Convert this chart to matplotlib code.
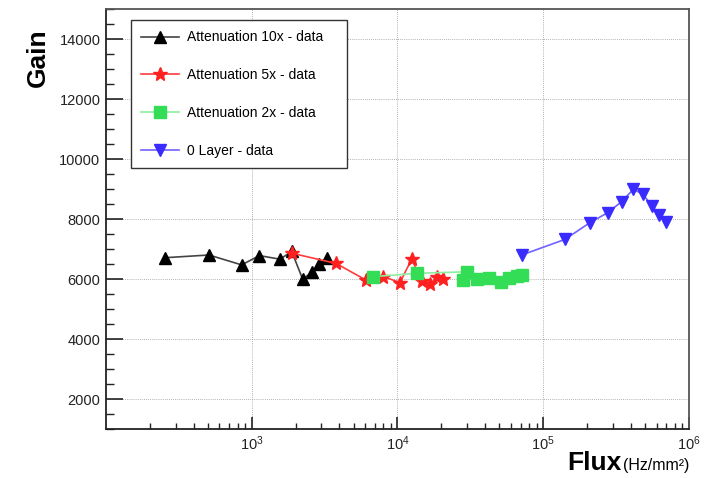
import numpy as np
import matplotlib
matplotlib.use("Agg")
import matplotlib.pyplot as plt
from matplotlib.ticker import LogLocator, MultipleLocator, NullFormatter

plt.rcParams['font.family'] = ['Liberation Sans', 'DejaVu Sans']
plt.rcParams['mathtext.fontset'] = 'custom'
plt.rcParams['mathtext.rm'] = 'Liberation Sans'
plt.rcParams['mathtext.it'] = 'Liberation Sans:italic'
plt.rcParams['mathtext.bf'] = 'Liberation Sans:bold'

# gain vs flux, one graph per attenuation setting
flux_10x = [254, 509, 853, 1127, 1563, 1880, 2237, 2604, 2893, 3268]
gain_10x = [6720, 6810, 6480, 6790, 6670, 6930, 6000, 6250, 6500, 6720]

flux_5x = [1880, 3785, 6050, 8000, 10400, 12500, 14660, 16710, 18570, 20620]
gain_5x = [6870, 6530, 5980, 6090, 5890, 6670, 5950, 5830, 6070, 6000]

flux_2x = [6820, 13680, 29840, 28280, 34930, 42650, 51300, 58500, 65740, 71150]
gain_2x = [6090, 6200, 6250, 5980, 6000, 6050, 5920, 6030, 6110, 6130]

flux_0l = [71150, 140900, 209400, 276700, 345300, 414900, 481000, 559900, 625600, 695600]
gain_0l = [6810, 7330, 7890, 8220, 8590, 9000, 8840, 8440, 8140, 7900]

fig = plt.figure(figsize=(7.1, 4.78), dpi=100)
ax = fig.add_axes([0.1493, 0.1019, 0.8211, 0.8786])

ax.plot(flux_10x, gain_10x, color='#444444', lw=1.2, marker='^', ms=9,
        mfc='black', mec='black', label='Attenuation 10x - data')
ax.plot(flux_5x, gain_5x, color='#ff3b3b', lw=1.2, marker='*', ms=10.5,
        mfc='#ff2020', mec='#ff2020', label='Attenuation 5x - data')
ax.plot(flux_2x, gain_2x, color='#8ceea0', lw=1.2, marker='s', ms=8,
        mfc='#33dd55', mec='#33dd55', label='Attenuation 2x - data')
ax.plot(flux_0l, gain_0l, color='#6f62ff', lw=1.2, marker='v', ms=9,
        mfc='#3a2bff', mec='#3a2bff', label='0 Layer - data')

ax.set_xscale('log')
ax.set_xlim(100, 1e6)
ax.set_ylim(1000, 15000)

ax.xaxis.set_major_locator(LogLocator(base=10, numticks=10))
ax.xaxis.set_minor_locator(LogLocator(base=10, subs=np.arange(2, 10), numticks=10))
ax.xaxis.set_minor_formatter(NullFormatter())
ax.yaxis.set_major_locator(MultipleLocator(2000))
ax.yaxis.set_minor_locator(MultipleLocator(500))

ax.tick_params(axis='both', which='both', direction='in', top=False, right=False,
               labelsize=10.5, colors='#222222')
ax.tick_params(axis='y', which='major', length=12, width=1.2, pad=4)
ax.tick_params(axis='y', which='minor', length=6, width=1.0)
ax.tick_params(axis='x', which='major', length=8.5, width=1.2, pad=4)
ax.tick_params(axis='x', which='minor', length=4.5, width=1.0)

# the lowest major tick (1000 / 100) is not labelled
ax.set_yticks([2000, 4000, 6000, 8000, 10000, 12000, 14000])
ax.set_xticks([1e3, 1e4, 1e5, 1e6])

ax.grid(True, which='major', linestyle=(0, (1, 1.5)), color='#999999', lw=0.6)

for s in ax.spines.values():
    s.set_linewidth(1.3)
    s.set_color('#222222')
ax.spines['right'].set_color('#555555')
ax.spines['top'].set_color('#555555')

fig.text(0.054, 0.88, 'Gain', rotation=90, fontsize=19, fontweight='bold',
         ha='center', va='center')
fig.text(0.876, 0.006, 'Flux', fontsize=19, fontweight='bold', ha='right', va='bottom')
fig.text(0.877, 0.010, '(Hz/mm²)', fontsize=11.5, ha='left', va='bottom')

leg = ax.legend(loc='upper left', bbox_to_anchor=(0.0429, 0.6126, 0.3705, 0.362),
                mode='expand', borderaxespad=0, fancybox=False, frameon=True,
                edgecolor='#333333', framealpha=1, fontsize=10,
                labelspacing=1.72, handlelength=2.7, handletextpad=0.6,
                borderpad=0.75)
leg.get_frame().set_linewidth(1.0)

fig.savefig('out.png', dpi=100)
